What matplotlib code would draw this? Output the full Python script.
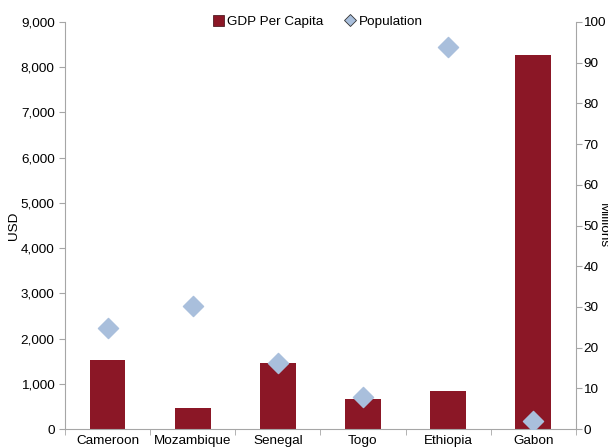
import matplotlib.pyplot as plt
from matplotlib.lines import Line2D
from matplotlib.patches import Patch
import numpy as np

plt.rcParams['font.family'] = ['Liberation Sans', 'DejaVu Sans']

countries = ["Cameroon", "Mozambique", "Senegal", "Togo", "Ethiopia", "Gabon"]
gdp_per_capita = [1530, 465, 1460, 665, 840, 8275]
population = [24.8, 30.2, 16.2, 7.9, 93.9, 2.0]

bar_color = "#8B1726"
dot_color = "#A9BFDC"
axis_grey = "#A6A6A6"

fig = plt.figure(figsize=(6.08, 4.47), dpi=100)
ax = fig.add_axes([0.107, 0.040, 0.840, 0.911])
ax2 = ax.twinx()

x = np.arange(len(countries))
ax.bar(x, gdp_per_capita, width=0.42, color=bar_color, zorder=2)
ax2.scatter(x, population, marker="D", s=105, color=dot_color, zorder=3)
ax2.set_zorder(ax.get_zorder() + 1)

ax.set_xlim(-0.5, len(countries) - 0.5)
ax.set_ylim(0, 9000)
ax2.set_ylim(0, 100)

ax.set_yticks(np.arange(0, 9001, 1000))
ax.set_yticklabels([f"{v:,}" for v in range(0, 9001, 1000)])
ax2.set_yticks(np.arange(0, 101, 10))

ax.set_xticks(x)
ax.set_xticklabels(countries)
ax.set_xticks(np.arange(-0.5, len(countries), 1), minor=True)
ax.tick_params(axis="x", which="major", length=0, pad=4, labelsize=9.7)
ax.tick_params(axis="x", which="minor", length=4, color=axis_grey)

for a in (ax, ax2):
    a.spines["top"].set_visible(False)
    for s in ("left", "right", "bottom"):
        a.spines[s].set_color(axis_grey)
    a.tick_params(axis="y", length=4, color=axis_grey, labelsize=9.7)
ax2.tick_params(axis="y", pad=1.5)
ax.spines["right"].set_visible(False)
ax2.spines["left"].set_visible(False)
ax2.spines["bottom"].set_visible(False)

ax.set_ylabel("USD", fontsize=9.7)
ax.yaxis.set_label_coords(-0.088, 0.5)
# the reference has this label squeezed against the right edge
ax2.set_ylabel("Millions", fontsize=9.7, rotation=270)
ax2.yaxis.set_label_coords(1.065, 0.5)

handles = [
    Patch(facecolor=bar_color, edgecolor="#3a0a10", linewidth=0.5, label="GDP Per Capita"),
    Line2D([], [], marker="D", linestyle="none", markersize=6.5, markerfacecolor=dot_color,
           markeredgecolor="#333333", markeredgewidth=0.6, label="Population"),
]
fig.legend(handles=handles, loc="center", bbox_to_anchor=(0.523, 0.951), ncol=2,
           frameon=False, fontsize=9.7, handlelength=0.8, handleheight=0.8,
           handletextpad=0.25, columnspacing=1.6, borderpad=0)

fig.savefig("out.png", dpi=100)
